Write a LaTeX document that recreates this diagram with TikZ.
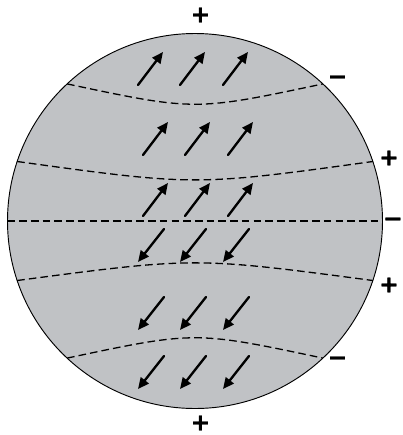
\documentclass[tikz,border=0pt]{standalone}
\usepackage{fontspec}
\setmainfont{Liberation Sans}
\newfontfamily\signfont{DejaVu Sans}[BoldFeatures={FakeBold=1.2}]
\usepackage{tikz}
\usetikzlibrary{arrows.meta}
\definecolor{globeGray}{RGB}{192,194,197}

\begin{document}
\begin{tikzpicture}[
      x=0.03cm, y=-0.03cm,
      globe/.style={draw=black, line width=0.8pt, fill=globeGray},
      zoneLine/.style={draw=black, line width=1.1pt, dash pattern=on 6.5pt off 3.5pt},
      fieldArrow/.style={-{Triangle[length=9.5pt,width=8.5pt]}, line width=2pt, line cap=round},
      signLabel/.style={font=\signfont\fontsize{20}{20}\selectfont\bfseries, inner sep=0pt}
    ]

      \useasboundingbox (0,0) rectangle (403,435);

      % ---------- globe ----------
      \coordinate (ctr) at (195,221);
      \draw[globe] (ctr) circle (187.5);

      % ---------- zone borders ----------
      \coordinate (z1w) at (67.1,83.9);   \coordinate (z1e) at (322.9,83.9);
      \coordinate (z2w) at (17.2,161.5);  \coordinate (z2e) at (372.8,161.5);
      \coordinate (z3w) at (7.5,221);     \coordinate (z3e) at (382.5,221);
      \coordinate (z4w) at (17.2,280.5);  \coordinate (z4e) at (372.8,280.5);
      \coordinate (z5w) at (67.1,358.1);  \coordinate (z5e) at (322.9,358.1);

      \draw[zoneLine] (z1w) .. controls (195,111) .. (z1e);
      \draw[zoneLine] (z2w) .. controls (195,186) .. (z2e);
      \draw[zoneLine, line width=1.4pt] (z3w) -- (z3e);
      \draw[zoneLine] (z4w) .. controls (195,257) .. (z4e);
      \draw[zoneLine] (z5w) .. controls (195,331) .. (z5e);

      % ---------- arrows ----------
      \foreach \y/\x in {85/138, 155/143, 216/143}
        \foreach \dx in {0,42,85}
          \draw[fieldArrow] (\x+\dx,\y) -- ++(25,-33);

      \foreach \y in {229, 297, 356}
        \foreach \dx in {0,42,85}
          \draw[fieldArrow] (164+\dx,\y) -- ++(-26,33);

      % ---------- signs ----------
      \node[signLabel] (s1) at (200.5,15)  {+};
      \node[signLabel] (s2) at (337.5,80)  {−};
      \node[signLabel] (s3) at (389,158)   {+};
      \node[signLabel, anchor=east] (s4) at (403,222) {−};
      \node[signLabel] (s5) at (389,285)   {+};
      \node[signLabel] (s6) at (337.5,361) {−};
      \node[signLabel] (s7) at (200.5,423) {+};

    \end{tikzpicture}
\end{document}
